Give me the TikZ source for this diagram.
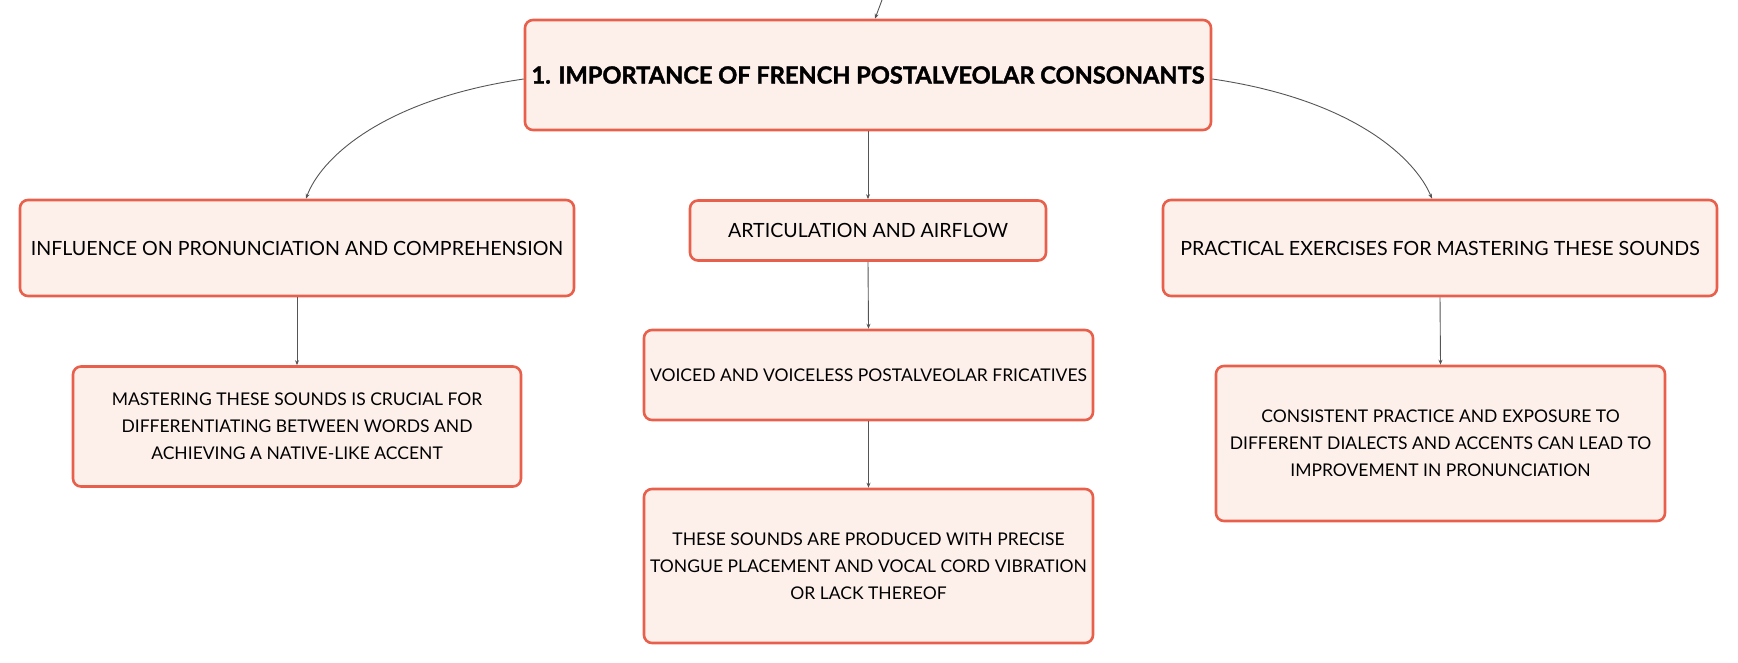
\documentclass[tikz,border=0pt]{standalone}
\usepackage{fontspec}
\setmainfont{Lato}
\newfontfamily\titlefont{Lato}[BoldFeatures={FakeBold=1.6}]
\usetikzlibrary{arrows.meta,calc}
\definecolor{boxborder}{HTML}{E8604C}
\definecolor{boxfill}{HTML}{FDF0EB}
\definecolor{connector}{HTML}{555555}
\tikzset{
  topic/.style={draw=boxborder, line width=2.6pt, fill=boxfill, rounded corners=8pt,
    inner sep=0pt, align=center, text=black},
  titlebox/.style={topic, font=\titlefont\fontsize{23.6}{28}\selectfont\bfseries},
  subbox/.style={topic, font=\fontsize{19.6}{24}\selectfont},
  leafbox/.style={topic, font=\fontsize{17.5}{27}\selectfont},
  conn/.style={draw=connector, line width=0.9pt, -{Stealth[length=5pt,width=4pt]}}
}
\begin{document}
\begin{tikzpicture}[x=1pt,y=-1pt]
\useasboundingbox (0,0) rectangle (1738,663);
\node[titlebox, minimum width=686pt, minimum height=110pt] (title) at (868,75) {1. IMPORTANCE OF FRENCH POSTALVEOLAR CONSONANTS};
\node[subbox, minimum width=554pt, minimum height=96pt] (c1) at (297,248) {INFLUENCE ON PRONUNCIATION AND COMPREHENSION};
\node[subbox, minimum width=356pt, minimum height=60pt] (c2) at (868,230.5) {ARTICULATION AND AIRFLOW};
\node[subbox, minimum width=554pt, minimum height=96pt] (c3) at (1440,248) {PRACTICAL EXERCISES FOR MASTERING THESE SOUNDS};
\node[leafbox, minimum width=448pt, minimum height=120pt] (g1) at (297,426.5) {MASTERING THESE SOUNDS IS CRUCIAL FOR\\DIFFERENTIATING BETWEEN WORDS AND\\ACHIEVING A NATIVE-LIKE ACCENT};
\node[leafbox, minimum width=449pt, minimum height=90pt] (m1) at (868.5,375) {VOICED AND VOICELESS POSTALVEOLAR FRICATIVES};
\node[leafbox, minimum width=449pt, minimum height=154pt] (m2) at (868.5,566) {THESE SOUNDS ARE PRODUCED WITH PRECISE\\TONGUE PLACEMENT AND VOCAL CORD VIBRATION\\OR LACK THEREOF};
\node[leafbox, minimum width=449pt, minimum height=155pt] (r1) at (1440.5,443.5) {CONSISTENT PRACTICE AND EXPOSURE TO\\DIFFERENT DIALECTS AND ACCENTS CAN LEAD TO\\IMPROVEMENT IN PRONUNCIATION};
\coordinate (top) at (882,0);
\draw[conn] (top) -- ($(title.north)+(7,0)$);
\draw[conn] ($(title.west)+(0,4)$) .. controls (380,100) and (320,160) .. ($(c1.north)+(9,0)$);
\draw[conn] ($(title.east)+(0,4)$) .. controls (1356,100) and (1416,160) .. ($(c3.north)+(-8,0)$);
\draw[conn] (title.south) -- (c2.north);
\draw[conn] (c1.south) -- (g1.north);
\draw[conn] (c2.south) -- (m1.north);
\draw[conn] (m1.south) -- (m2.north);
\draw[conn] (c3.south) -- (r1.north);
\end{tikzpicture}
\end{document}
